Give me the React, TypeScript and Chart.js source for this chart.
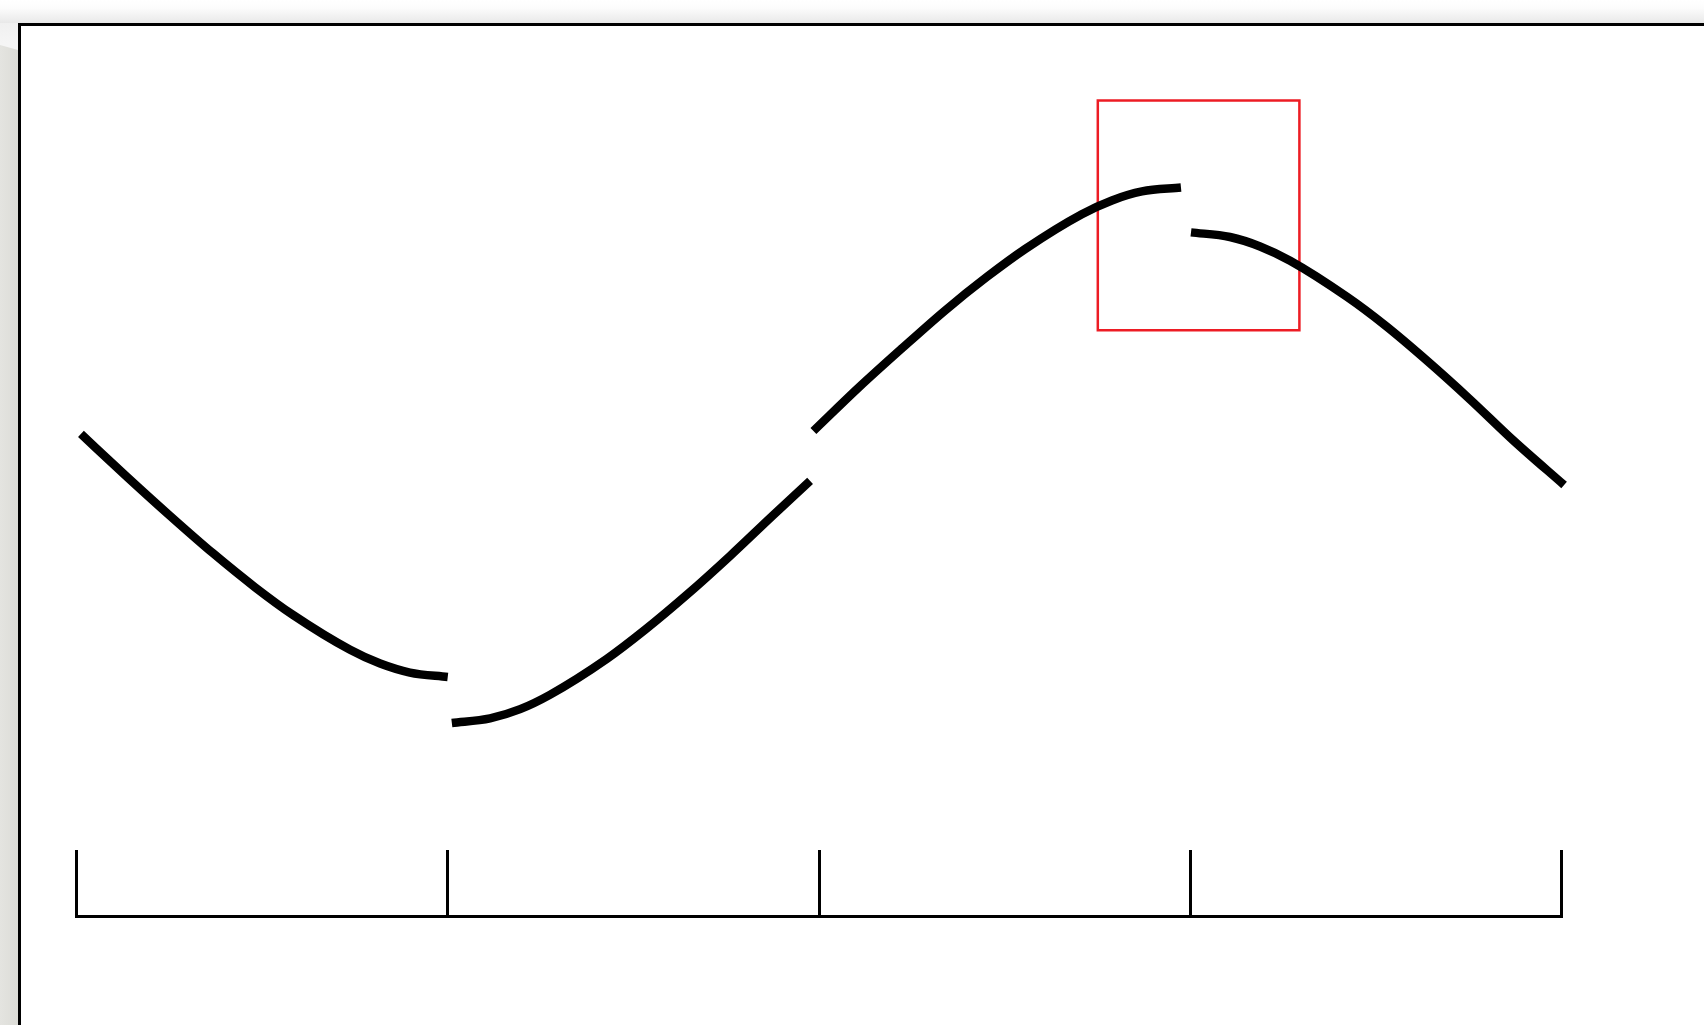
import React, { useEffect, useRef } from "react";
import { Chart, registerables } from "chart.js";

Chart.register(...registerables);

// x: position along the wave, one unit per tick interval; y: amplitude units
const xTicks = [0, 1, 2, 3, 4];

const segment1X = [0.012, 0.136, 0.252, 0.368, 0.481, 0.583, 0.737, 0.818, 0.898, 1.0];
const segment1Y = [-0.008, -0.185, -0.346, -0.501, -0.641, -0.755, -0.899, -0.956, -0.993, -1.011];

const segment2X = [1.011, 1.114, 1.195, 1.275, 1.429, 1.531, 1.644, 1.76, 1.876, 1.976];
const segment2Y = [-1.201, -1.182, -1.144, -1.085, -0.936, -0.817, -0.672, -0.512, -0.344, -0.202];

const segment3X = [1.985, 2.108, 2.224, 2.339, 2.453, 2.555, 2.708, 2.789, 2.87, 2.975];
const segment3Y = [0.004, 0.185, 0.346, 0.501, 0.641, 0.755, 0.899, 0.956, 0.993, 1.009];

const segment4X = [3.002, 3.107, 3.188, 3.269, 3.422, 3.525, 3.638, 3.754, 3.869, 4.007];
const segment4Y = [0.824, 0.805, 0.766, 0.707, 0.558, 0.44, 0.294, 0.134, -0.033, -0.219];

// highlight box around the jump: [left, right] and [bottom, top]
const boxX = [2.751, 3.294];
const boxY = [0.42, 1.368];

const toPoints = (xs: number[], ys: number[]) => xs.map((x, i) => ({ x, y: ys[i] }));

export default function App() {
  const ref = useRef<HTMLCanvasElement>(null);

  useEffect(() => {
    const canvas = ref.current;
    if (!canvas) return;

    const curve = (xs: number[], ys: number[]) => ({
      data: toPoints(xs, ys),
      borderColor: "#000000",
      borderWidth: 8.5,
      pointRadius: 0,
      pointHoverRadius: 0,
      fill: false,
      cubicInterpolationMode: "monotone" as const,
      borderCapStyle: "butt" as const,
      clip: false as const,
    });

    const boxPath = [
      { x: boxX[0], y: boxY[1] },
      { x: boxX[1], y: boxY[1] },
      { x: boxX[1], y: boxY[0] },
      { x: boxX[0], y: boxY[0] },
      { x: boxX[0], y: boxY[1] },
    ];

    const chart = new Chart(canvas, {
      type: "line",
      data: {
        datasets: [
          curve(segment1X, segment1Y),
          curve(segment2X, segment2Y),
          curve(segment3X, segment3Y),
          curve(segment4X, segment4Y),
          {
            data: boxPath,
            borderColor: "rgb(237,28,36)",
            borderWidth: 2.5,
            pointRadius: 0,
            pointHoverRadius: 0,
            fill: false,
            tension: 0,
            borderCapStyle: "square",
            borderJoinStyle: "miter",
            clip: false,
          } as any,
        ],
      },
      options: {
        animation: false,
        responsive: false,
        events: [],
        layout: { padding: { left: 76.5, right: 142.5, top: 8.0625, bottom: 47.9375 } },
        plugins: {
          legend: { display: false },
          tooltip: { enabled: false },
          title: { display: false },
        },
        scales: {
          x: {
            type: "linear",
            min: 0,
            max: 4,
            position: { y: -2 } as any,
            afterBuildTicks: (scale: any) => {
              scale.ticks = xTicks.map((v) => ({ value: v }));
            },
            ticks: { display: false },
            grid: {
              display: true,
              drawOnChartArea: false,
              drawTicks: true,
              tickLength: -68,
              tickWidth: 3,
              tickColor: "#000000",
              lineWidth: 3,
              color: "#000000",
            },
            border: { display: true, width: 3, color: "#000000" },
          },
          y: {
            type: "linear",
            min: -2.25,
            max: 1.75,
            display: false,
          },
        },
      } as any,
    });

    return () => chart.destroy();
  }, []);

  return (
    <div
      style={{
        position: "fixed",
        left: 0,
        top: 0,
        width: 1704,
        height: 1025,
        overflow: "hidden",
        background: "#ffffff",
      }}
    >
      <div
        style={{
          position: "absolute",
          left: 0,
          top: 0,
          width: 1704,
          height: 23,
          background: "linear-gradient(to bottom, #ffffff 0px, #fcfcfc 8px, #efefef 18px, #e8e8e8 23px)",
        }}
      />
      <div
        style={{
          position: "absolute",
          left: 0,
          top: 23,
          width: 18,
          height: 1002,
          background: "linear-gradient(to bottom, #f0f0f0 0px, #f5f5f5 20px)",
        }}
      />
      <div
        style={{
          position: "absolute",
          left: 0,
          top: 23,
          width: 18,
          height: 1002,
          background: "linear-gradient(to right, #e4e4e0 0%, #dcdcd7 100%)",
          clipPath: "polygon(0 22px, 100% 27px, 100% 100%, 0 100%)",
        }}
      />
      <div
        style={{
          position: "absolute",
          left: 18,
          top: 23,
          width: 1800,
          height: 1100,
          borderLeft: "3px solid #000000",
          borderTop: "3px solid #000000",
          background: "#ffffff",
        }}
      />
      <canvas
        ref={ref}
        width={1704}
        height={1025}
        style={{ position: "absolute", left: 0, top: 0, width: 1704, height: 1025 }}
      />
    </div>
  );
}
